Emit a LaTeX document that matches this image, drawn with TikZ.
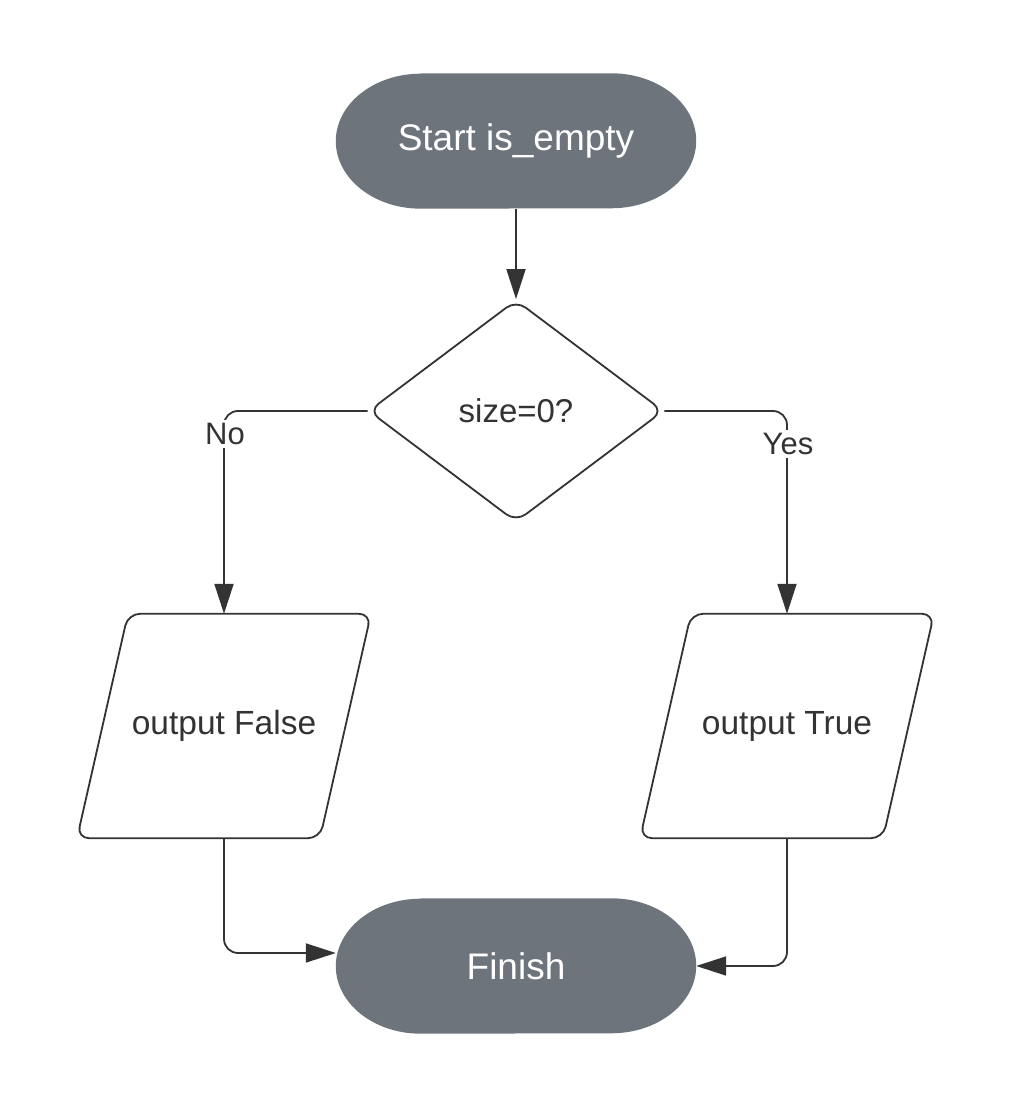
\documentclass[tikz,border=0pt]{standalone}
\usepackage{fontspec}
\setmainfont{Liberation Sans}
\usetikzlibrary{shapes.geometric,arrows.meta,backgrounds}
\definecolor{termfill}{RGB}{110,116,124}
\definecolor{ink}{RGB}{51,51,51}
\newcommand\termshape[1]{\fill[termfill] ([xshift=85pt]#1.north west) -- ([xshift=-85pt]#1.north east) arc[start angle=90,end angle=-90,x radius=85pt,y radius=67.5pt] -- ([xshift=85pt]#1.south west) arc[start angle=270,end angle=90,x radius=85pt,y radius=67.5pt] -- cycle;}
\newcommand\paragram[1]{\draw[line, rounded corners=12pt] (#1.north) -- ([xshift=147pt]#1.north) -- ([xshift=96pt]#1.south) -- ([xshift=-147pt]#1.south) -- ([xshift=-96pt]#1.north) -- cycle;}
\begin{document}
\begin{tikzpicture}[x=1pt,y=1pt,
  line/.style={draw=ink,line width=1.8pt},
  arr/.style={line,-{Triangle[length=30pt,width=19pt]}},
  term/.style={draw=none, minimum width=360pt, minimum height=135pt, inner sep=0pt, text=white, font=\fontsize{37pt}{44pt}\selectfont},
  dec/.style={diamond, draw=ink, line width=1.8pt, rounded corners=12pt, minimum width=295pt, minimum height=222pt, inner sep=0pt, text=ink, font=\fontsize{33pt}{40pt}\selectfont},
  io/.style={minimum width=192pt, minimum height=224pt, inner sep=0pt, text=ink, font=\fontsize{33.5pt}{40pt}\selectfont},
  lbl/.style={fill=white, text=ink, inner sep=3pt, font=\fontsize{31pt}{37pt}\selectfont}]
\useasboundingbox (0,0) rectangle (1013,1110);

\node[term] (st) at (516,969) {Start is\_empty};
\node[dec] (d) at (516,699) {size=0?};
\node[io] (pF) at (224,384) {output False};
\node[io] (pT) at (787,384) {output True};
\node[term] (fin) at (516,144) {Finish};

\begin{scope}[on background layer]
  \fill[white] (0,0) rectangle (1013,1110);
  \termshape{st}
  \termshape{fin}
\end{scope}

\paragram{pF}
\paragram{pT}

\draw[arr] (st.south) -- (d.north);
\draw[arr, rounded corners=14pt] (d.west) -| (pF.north);
\draw[arr, rounded corners=14pt] (d.east) -| (pT.north);
\draw[arr, rounded corners=14pt] (pF.south) |- ([yshift=13pt]fin.west);
\draw[arr, rounded corners=14pt] (pT.south) |- (fin.east);

\node[lbl] (no) at (225,676) {No};
\node[lbl] (yes) at (788,666) {Yes};
\end{tikzpicture}
\end{document}
